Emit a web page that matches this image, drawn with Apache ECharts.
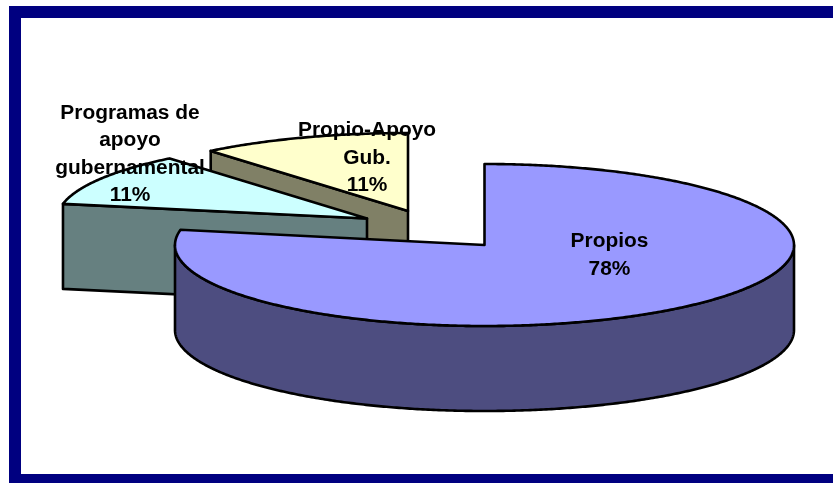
<!DOCTYPE html>
<html><head><meta charset="utf-8">
<style>html,body{margin:0;padding:0;background:#fff}#c{width:833px;height:483px}</style>
<script src="https://cdn.jsdelivr.net/npm/echarts@6/dist/echarts.min.js"></script>
</head><body><div id="c"></div>
<script>
const categories = ['Propios', 'Programas de\napoyo\ngubernamental', 'Propio-Apoyo\nGub.'];
const values = [78, 11, 11];
const topColors = ['#9999FF', '#CCFFFF', '#FFFFCC'];
const wallColors = ['#4D4D80', '#668080', '#808066'];
const apexes = [[484.5, 245], [367, 218.5], [408, 211]];
const radiiY = [81, 78, 78];
const labelPos = [[609.5, 255], [130, 154], [367, 158]];
const drawOrder = [3, 2, 1];
const RX = 309.5, DEPTH = 85;
const total = values.reduce((a, b) => a + b, 0);

function pt(c, ry, deg, dy) {
  const t = deg * Math.PI / 180;
  return [c[0] + RX * Math.sin(t), c[1] - ry * Math.cos(t) + (dy || 0)];
}
function arc(c, ry, a, b, dy) {
  const out = [], n = Math.max(2, Math.ceil(Math.abs(b - a) * 2));
  for (let i = 0; i <= n; i++) out.push(pt(c, ry, a + (b - a) * i / n, dy));
  return out;
}
const line = { stroke: '#000', lineWidth: 2.6, lineJoin: 'round' };
function poly(points, fill, z2) {
  return { type: 'polygon', z2, shape: { points }, style: Object.assign({ fill }, line) };
}
function renderItem(params, api) {
  const i = params.dataIndex;
  let start = 0;
  for (let k = 0; k < i; k++) start += values[k];
  const a0 = start / total * 360, a1 = (start + api.value(0)) / total * 360;
  const c = apexes[i], ry = radiiY[i], z = drawOrder[i] * 10, children = [];
  if (i === 0) {
    const up = arc(c, ry, 90, 270, 0), down = arc(c, ry, 270, 90, DEPTH);
    children.push(poly(up.concat(down), wallColors[i], z));
  } else {
    const p = pt(c, ry, a0, 0), q = pt(c, ry, a0, DEPTH);
    children.push(poly([p, c, [c[0], c[1] + DEPTH], q], wallColors[i], z));
  }
  children.push(poly([c].concat(arc(c, ry, a0, a1, 0)), topColors[i], z + 1));
  children.push({
    type: 'text', z2: 100, x: labelPos[i][0], y: labelPos[i][1],
    style: {
      text: categories[i] + '\n' + values[i] + '%',
      font: 'bold 20.9px "Liberation Sans", Arial, sans-serif',
      lineHeight: 27.5, fill: '#000', align: 'center', verticalAlign: 'middle'
    }
  });
  return { type: 'group', children };
}
const chart = echarts.init(document.getElementById('c'), null, { renderer: 'canvas' });
chart.setOption({
  animation: false,
  backgroundColor: '#fff',
  graphic: [
    { type: 'rect', z: 0, shape: { x: 9, y: 6, width: 824, height: 12 }, style: { fill: '#000080' } },
    { type: 'rect', z: 0, shape: { x: 9, y: 6, width: 12, height: 477 }, style: { fill: '#000080' } },
    { type: 'rect', z: 0, shape: { x: 9, y: 474, width: 824, height: 9 }, style: { fill: '#000080' } }
  ],
  series: [{
    type: 'custom', coordinateSystem: 'none', silent: true,
    data: values.map(v => [v]),
    renderItem
  }]
});
</script></body></html>
